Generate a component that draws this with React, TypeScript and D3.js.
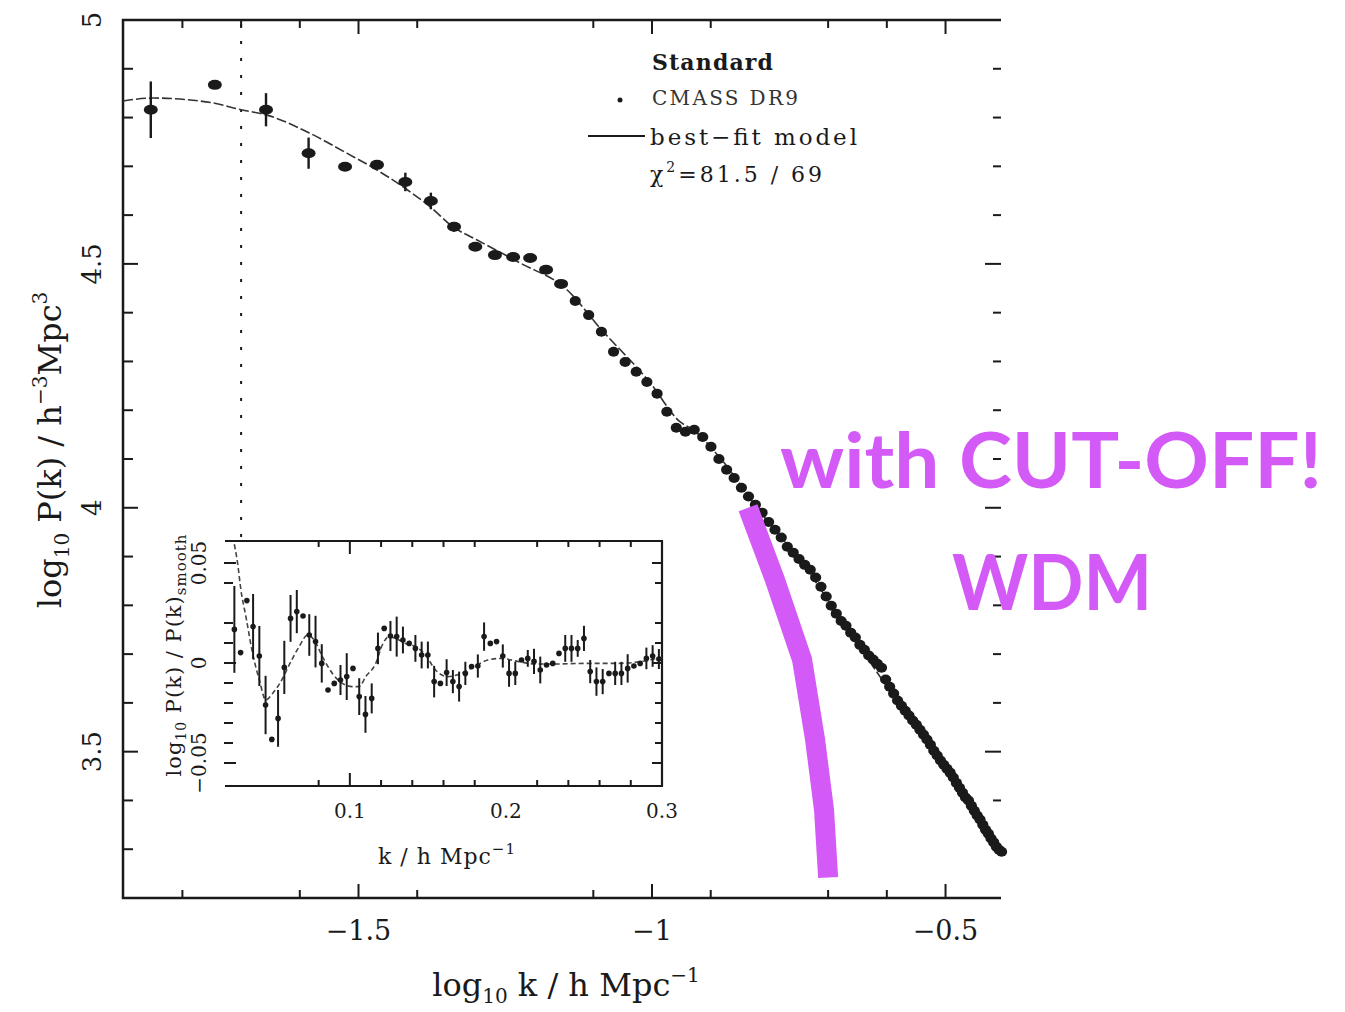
import React from 'react';
import * as d3 from 'd3';

// ---------- main panel data (CMASS DR9 P(k)) ----------
const kMain = [
  0.014, 0.018, 0.022, 0.026, 0.030, 0.034, 0.038, 0.042, 0.046, 0.050,
  0.054, 0.058, 0.062, 0.066, 0.070, 0.074, 0.078, 0.082, 0.086, 0.090,
  0.094, 0.098, 0.102, 0.106, 0.110, 0.114, 0.118, 0.122, 0.126, 0.130,
  0.134, 0.138, 0.142, 0.146, 0.150, 0.154, 0.158, 0.162, 0.166, 0.170,
  0.174, 0.178, 0.182, 0.186, 0.190, 0.194, 0.198, 0.202, 0.206, 0.210,
  0.214, 0.218, 0.222, 0.226, 0.230, 0.234, 0.238, 0.242, 0.246, 0.250,
  0.254, 0.258, 0.262, 0.266, 0.270, 0.274, 0.278, 0.282, 0.286, 0.290,
  0.294, 0.298, 0.302, 0.306, 0.310, 0.314, 0.318, 0.322, 0.326, 0.330,
  0.334, 0.338, 0.342, 0.346, 0.350, 0.354, 0.358, 0.362, 0.366, 0.370,
  0.374, 0.378, 0.382, 0.386, 0.390, 0.394,
];
const logPMain = [
  4.816, 4.867, 4.816, 4.727, 4.699, 4.703, 4.668, 4.629, 4.576, 4.535,
  4.518, 4.514, 4.512, 4.488, 4.459, 4.424, 4.395, 4.361, 4.320, 4.299,
  4.279, 4.258, 4.234, 4.197, 4.164, 4.156, 4.160, 4.145, 4.125, 4.100,
  4.078, 4.061, 4.041, 4.023, 4.006, 3.990, 3.971, 3.955, 3.939, 3.920,
  3.908, 3.895, 3.883, 3.873, 3.857, 3.838, 3.818, 3.799, 3.783, 3.768,
  3.758, 3.744, 3.734, 3.719, 3.709, 3.697, 3.689, 3.680, 3.672, 3.648,
  3.633, 3.619, 3.605, 3.594, 3.584, 3.574, 3.564, 3.555, 3.545, 3.535,
  3.525, 3.514, 3.502, 3.492, 3.482, 3.473, 3.465, 3.457, 3.447, 3.436,
  3.426, 3.416, 3.406, 3.400, 3.389, 3.379, 3.369, 3.361, 3.350, 3.340,
  3.332, 3.322, 3.314, 3.305, 3.299, 3.295,
];
const errMain = [
  0.058, 0.004, 0.034, 0.032, 0.005, 0.005, 0.019, 0.017, 0.010, 0.008,
  0.007, 0.007, 0.007, 0.006, 0.006, 0.005, 0.005, 0.005, 0.005, 0.005,
];

// best-fit model curve
const modelLogK = [-1.901, -1.85, -1.748, -1.7, -1.656, -1.583, -1.52, -1.475, -1.417, -1.378,
  -1.339, -1.298, -1.225, -1.145, -1.089, -1.003, -0.952, -0.93, -0.884, -0.816,
  -0.748, -0.663, -0.578, -0.492, -0.405];
const modelLogP = [4.834, 4.84, 4.83, 4.816, 4.805, 4.768, 4.727, 4.697, 4.652, 4.617,
  4.576, 4.549, 4.502, 4.447, 4.369, 4.256, 4.176, 4.16, 4.102, 3.992,
  3.893, 3.744, 3.596, 3.457, 3.293];

// WDM cut-off (hand-drawn overlay)
const cutoffLogK = [-0.8365, -0.7905, -0.7445, -0.7223, -0.707, -0.7];
const cutoffLogP = [4.0, 3.852, 3.689, 3.525, 3.381, 3.242];

// ---------- inset data (BAO ratio) ----------
const insetK = [
  0.026, 0.030, 0.034, 0.038, 0.042, 0.046, 0.050, 0.054, 0.058, 0.062,
  0.066, 0.070, 0.074, 0.078, 0.082, 0.086, 0.090, 0.094, 0.098, 0.102,
  0.106, 0.110, 0.114, 0.118, 0.122, 0.126, 0.130, 0.134, 0.138, 0.142,
  0.146, 0.150, 0.154, 0.158, 0.162, 0.166, 0.170, 0.174, 0.178, 0.182,
  0.186, 0.190, 0.194, 0.198, 0.202, 0.206, 0.210, 0.214, 0.218, 0.222,
  0.226, 0.230, 0.234, 0.238, 0.242, 0.246, 0.250, 0.254, 0.258, 0.262,
  0.266, 0.270, 0.274, 0.278, 0.282, 0.286, 0.290, 0.294, 0.298,
];
const insetRatio = [
  0.0168, 0.0052, 0.0312, 0.0182, 0.0035, -0.021, -0.0382, -0.0277, -0.0022, 0.0223,
  0.0257, 0.0235, 0.014, 0.0107, -0.0002, -0.0135, -0.0102, -0.0085, -0.0068, -0.0027,
  -0.0168, -0.0257, -0.0177, 0.0073, 0.0173, 0.0135, 0.0132, 0.0115, 0.0098, 0.0073,
  0.004, 0.004, -0.0093, -0.0102, -0.0048, -0.0093, -0.0118, -0.0052, -0.0018, -0.0015,
  0.0132, 0.0098, 0.0107, 0.0035, -0.0052, -0.0052, 0.0015, 0.0023, 0.0008, -0.0035,
  -0.001, -0.0002, 0.0048, 0.0073, 0.0073, 0.0073, 0.0123, -0.0043, -0.0093, -0.0093,
  -0.0052, -0.0052, -0.0052, -0.0027, -0.0015, -0.0002, 0.0023, 0.0035, 0.002,
];
const insetErr = [
  0.0217, 0.002, 0.003, 0.0163, 0.015, 0.0146, 0.002, 0.0142, 0.0133, 0.0117,
  0.0108, 0.003, 0.0104, 0.0129, 0.0096, 0.002, 0.003, 0.0075, 0.0117, 0.003,
  0.0092, 0.0092, 0.0075, 0.0079, 0.003, 0.0075, 0.01, 0.0067, 0.003, 0.0067,
  0.0067, 0.0067, 0.0079, 0.003, 0.0067, 0.0058, 0.0075, 0.0058, 0.003, 0.0058,
  0.0071, 0.003, 0.002, 0.0058, 0.0067, 0.0058, 0.003, 0.0042, 0.0063, 0.0067,
  0.003, 0.003, 0.003, 0.0067, 0.0067, 0.0042, 0.0063, 0.0058, 0.0071, 0.0063,
  0.003, 0.0058, 0.0058, 0.0071, 0.003, 0.003, 0.0054, 0.0054, 0.005,
];
const insetModelK = [0.0249, 0.0281, 0.0302, 0.0334, 0.0377, 0.042, 0.0462, 0.0505, 0.0558, 0.0611,
  0.0675, 0.0729, 0.0771, 0.0824, 0.0888, 0.0952, 0.1016, 0.1059, 0.1102, 0.1166,
  0.1208, 0.1251, 0.1293, 0.1357, 0.1421, 0.1485, 0.1549, 0.1628, 0.1713, 0.1798,
  0.1884, 0.1969, 0.2075, 0.2182, 0.231, 0.2502, 0.2715, 0.2864, 0.3011];
const insetModelRatio = [0.0632, 0.0498, 0.0365, 0.0232, 0.0048, -0.0085, -0.0185, -0.0152, -0.0093, -0.001,
  0.0082, 0.014, 0.0115, 0.0032, -0.0052, -0.0102, -0.0118, -0.0118, -0.0068, -0.0002,
  0.009, 0.0132, 0.0123, 0.0098, 0.0082, 0.004, -0.0035, -0.0068, -0.0052, -0.0018,
  0.0015, 0.0023, 0.0008, -0.0005, -0.0005, -0.0002, -0.0002, 0.0007, 0.0032];

// ---------- ticks ----------
const xTicksBottom = [-1.8, -1.6, -1.5, -1.4, -1.1, -1.0, -0.9, -0.7, -0.6, -0.5];
const xTicksTop = [-1.8, -1.7, -1.6, -1.5, -1.4, -1.1, -1.0, -0.9, -0.7, -0.6, -0.5];
const xMajor = [-1.5, -1.0, -0.5];
const xMajorLabels = ['\u22121.5', '\u22121', '\u22120.5'];
const yMinor = [3.3, 3.4, 3.6, 3.7, 3.8, 3.9, 4.1, 4.2, 4.3, 4.4, 4.6, 4.7, 4.8, 4.9];
const yMajor = [3.5, 4.0, 4.5, 5.0];
const yMajorLabels = ['3.5', '4', '4.5', '5'];
const insetXTicks = [0.08, 0.12, 0.14, 0.16, 0.18, 0.22, 0.24, 0.26, 0.28];
const insetXMajor = [0.1];
const insetXLabels = [0.1, 0.2, 0.3];
const insetYMinor = [0.04, 0.02, 0.01, -0.01, -0.02, -0.03, -0.04];
const insetYMajor = [0.05, 0, -0.05];
const insetYLabels = ['0.05', '0', '\u22120.05'];
const dividerLogK = -1.7;

const PURPLE = '#d35af6';
const INK = '#1a1a1a';
const SERIF = "'DejaVu Serif', 'Liberation Serif', serif";

export default function App() {
  const L = 123, R = 1001, T = 20, B = 898;
  const x = d3.scaleLinear().domain([-1.9012, -0.4055]).range([L, R]);
  const y = d3.scaleLinear().domain([3.2, 5.0]).range([B, T]);

  const IL = 225, IR = 662, IT = 541, IB = 786;
  const ix = d3.scaleLinear().domain([0.02, 0.3]).range([IL, IR]);
  const iy = d3.scaleLinear().domain([-0.0615, 0.061]).range([IB, IT]);

  const mainPts = kMain.map((k, i) => ({ lk: Math.log10(k), lp: logPMain[i], e: errMain[i] ?? 0.004, i }));
  const modelPath = d3.line<number>()
    .x((_, i) => x(modelLogK[i]))
    .y((d) => y(d))
    .curve(d3.curveMonotoneX)(modelLogP) || '';
  const cutoffPath = d3.line<number>()
    .x((_, i) => x(cutoffLogK[i]))
    .y((d) => y(d))(cutoffLogP) || '';
  const insetModelPath = d3.line<number>()
    .x((_, i) => ix(insetModelK[i]))
    .y((d) => iy(d))
    .curve(d3.curveMonotoneX)(insetModelRatio) || '';

  return (
    <svg width={1345} height={1012} style={{ position: 'absolute', left: 0, top: 0, background: '#fff' }}
      fontFamily={SERIF}>
      <defs>
        <clipPath id="insetClip"><rect x={IL} y={IT} width={IR - IL} height={IB - IT} /></clipPath>
        <clipPath id="mainClip"><rect x={L} y={T} width={R - L} height={B - T} /></clipPath>
      </defs>
      <rect x={0} y={0} width={1345} height={1012} fill="#fff" />

      {/* frame (right edge absent in the reference) */}
      <path d={`M${R},${T}H${L}V${B}H${R}`} fill="none" stroke={INK} strokeWidth={2.5} />

      {/* bottom / top ticks */}
      {xTicksBottom.map((t) => {
        const maj = xMajor.some((m) => Math.abs(m - t) < 1e-9);
        return <line key={'xb' + t} x1={x(t)} x2={x(t)} y1={B} y2={B - (maj ? 14 : 8)} stroke={INK} strokeWidth={2} />;
      })}
      {xTicksTop.map((t) => {
        const maj = xMajor.some((m) => Math.abs(m - t) < 1e-9);
        return <line key={'xt' + t} x1={x(t)} x2={x(t)} y1={T} y2={T + (maj ? 14 : 8)} stroke={INK} strokeWidth={2} />;
      })}
      {/* left / right ticks */}
      {yMinor.map((t) => (
        <g key={'ym' + t}>
          <line x1={L} x2={L + 10} y1={y(t)} y2={y(t)} stroke={INK} strokeWidth={2} />
          <line x1={R - 8} x2={R} y1={y(t)} y2={y(t)} stroke={INK} strokeWidth={2} />
        </g>
      ))}
      {yMajor.map((t) => (
        <g key={'yM' + t}>
          <line x1={L} x2={L + 15} y1={y(t)} y2={y(t)} stroke={INK} strokeWidth={2} />
          <line x1={R - 16} x2={R} y1={y(t)} y2={y(t)} stroke={INK} strokeWidth={2} />
        </g>
      ))}

      {/* tick labels */}
      {xMajor.map((t, i) => (
        <text key={'xl' + t} x={x(t)} y={940} textAnchor="middle" fontSize={27} fill={INK}>{xMajorLabels[i]}</text>
      ))}
      {yMajor.map((t, i) => (
        <text key={'yl' + t} transform={`translate(101,${y(t)}) rotate(-90)`} textAnchor="middle" fontSize={26} fill={INK}>{yMajorLabels[i]}</text>
      ))}

      {/* axis titles */}
      <text x={566} y={996} textAnchor="middle" fontSize={32} fill={INK}>
        log<tspan fontSize={20} dy={7}>10</tspan><tspan dy={-7}> k / h Mpc</tspan><tspan fontSize={20} dy={-14}>{'\u22121'}</tspan>
      </text>
      <text transform="translate(61,450) rotate(-90)" textAnchor="middle" fontSize={32} fill={INK}>
        log<tspan fontSize={20} dy={8}>10</tspan><tspan dy={-8}> P(k) / h</tspan><tspan fontSize={20} dy={-14}>{'\u22123'}</tspan><tspan dy={14}>Mpc</tspan><tspan fontSize={20} dy={-14}>3</tspan>
      </text>

      {/* vertical dotted line */}
      <line x1={x(dividerLogK)} x2={x(dividerLogK)} y1={T + 4} y2={IT} stroke={INK} strokeWidth={2} strokeDasharray="3,14" />

      {/* best-fit model */}
      <path d={modelPath} fill="none" stroke="#333" strokeWidth={1.6} strokeDasharray="10,3" clipPath="url(#mainClip)" />

      {/* data points */}
      {mainPts.map((p) => (
        <g key={'p' + p.i}>
          {p.e > 0.009 && (
            <line x1={x(p.lk)} x2={x(p.lk)} y1={y(p.lp + p.e)} y2={y(p.lp - p.e)} stroke={INK} strokeWidth={2.4} />
          )}
          <ellipse cx={x(p.lk)} cy={y(p.lp)} rx={p.i < 15 ? 7 : 5.6} ry={p.i < 15 ? 5 : 5} fill={INK} />
        </g>
      ))}

      {/* inset */}
      <rect x={IL} y={IT} width={IR - IL} height={IB - IT} fill="#fff" />
      <path d={`M${IL},${IT}H${IR}V${IB}H${IL}`} fill="none" stroke={INK} strokeWidth={2.2} />
      {insetXTicks.map((t) => (
        <g key={'ixt' + t}>
          <line x1={ix(t)} x2={ix(t)} y1={IT} y2={IT + 6} stroke={INK} strokeWidth={2} />
          <line x1={ix(t)} x2={ix(t)} y1={IB} y2={IB - 6} stroke={INK} strokeWidth={2} />
        </g>
      ))}
      {insetXMajor.map((t) => (
        <g key={'ixM' + t}>
          <line x1={ix(t)} x2={ix(t)} y1={IT} y2={IT + 13} stroke={INK} strokeWidth={2} />
          <line x1={ix(t)} x2={ix(t)} y1={IB} y2={IB - 13} stroke={INK} strokeWidth={2} />
        </g>
      ))}
      {insetYMinor.map((t) => (
        <g key={'iym' + t}>
          <line x1={IL - 1} x2={IL + 8} y1={iy(t)} y2={iy(t)} stroke={INK} strokeWidth={2} />
          <line x1={IR - 7} x2={IR} y1={iy(t)} y2={iy(t)} stroke={INK} strokeWidth={2} />
        </g>
      ))}
      {insetYMajor.map((t) => (
        <g key={'iyM' + t}>
          <line x1={IL - 1} x2={IL + 11} y1={iy(t)} y2={iy(t)} stroke={INK} strokeWidth={2} />
          <line x1={IR - 10} x2={IR} y1={iy(t)} y2={iy(t)} stroke={INK} strokeWidth={2} />
        </g>
      ))}
      <g clipPath="url(#insetClip)">
        <path d={insetModelPath} fill="none" stroke="#444" strokeWidth={1.6} strokeDasharray="5,3" />
        {insetK.map((k, i) => (
          <g key={'ip' + i}>
            {insetErr[i] > 0.0035 && (
              <line x1={ix(k)} x2={ix(k)} y1={iy(insetRatio[i] + insetErr[i])} y2={iy(insetRatio[i] - insetErr[i])} stroke={INK} strokeWidth={2} />
            )}
            <circle cx={ix(k)} cy={iy(insetRatio[i])} r={2.8} fill={INK} />
          </g>
        ))}
      </g>
      {insetXLabels.map((t) => (
        <text key={'ixl' + t} x={ix(t)} y={818} textAnchor="middle" fontSize={20} fill={INK}>{t.toFixed(1)}</text>
      ))}
      <text x={447} y={864} textAnchor="middle" fontSize={22} fill={INK} letterSpacing={1}>
        k / h Mpc<tspan fontSize={15} dy={-10}>{'\u22121'}</tspan>
      </text>
      {insetYMajor.map((t, i) => (
        <text key={'iyl' + t} transform={`translate(206,${iy(t)}) rotate(-90)`} textAnchor="middle" fontSize={20} fill={INK}>{insetYLabels[i]}</text>
      ))}
      <text transform="translate(181,655) rotate(-90)" textAnchor="middle" fontSize={21} fill={INK} letterSpacing={1}>
        log<tspan fontSize={14} dy={5}>10</tspan><tspan dy={-5}> P(k) / P(k)</tspan><tspan fontSize={15} dy={5}>smooth</tspan>
      </text>

      {/* legend */}
      <text x={652} y={70} fontSize={22} fontWeight="bold" fill={INK} textLength={121} lengthAdjust="spacing">Standard</text>
      <circle cx={620} cy={100} r={2.5} fill={INK} />
      <text x={652} y={105} fontSize={20} fill="#333" textLength={146} lengthAdjust="spacing">CMASS DR9</text>
      <line x1={588} x2={645} y1={136} y2={136} stroke={INK} strokeWidth={2} />
      <text x={650} y={145} fontSize={23} fill={INK} textLength={207} lengthAdjust="spacing">best{'\u2212'}fit model</text>
      <text x={650} y={182} fontSize={22} fill={INK} letterSpacing={3}>
        χ<tspan fontSize={14} dy={-10}>2</tspan><tspan dy={10}>=81.5 / 69</tspan>
      </text>

      {/* WDM cut-off overlay */}
      <path d={cutoffPath} fill="none" stroke={PURPLE} strokeWidth={20} strokeLinecap="butt" strokeLinejoin="round" />
      <text x={780} y={488} fontSize={76} fontWeight="bold" fill={PURPLE}
        fontFamily="'Comic Sans MS', 'Lato', 'Open Sans', sans-serif" textLength={542} lengthAdjust="spacingAndGlyphs">with CUT-OFF!</text>
      <text x={952} y={610} fontSize={76} fontWeight="bold" fill={PURPLE}
        fontFamily="'Comic Sans MS', 'Lato', 'Open Sans', sans-serif" textLength={200} lengthAdjust="spacingAndGlyphs">WDM</text>
    </svg>
  );
}
